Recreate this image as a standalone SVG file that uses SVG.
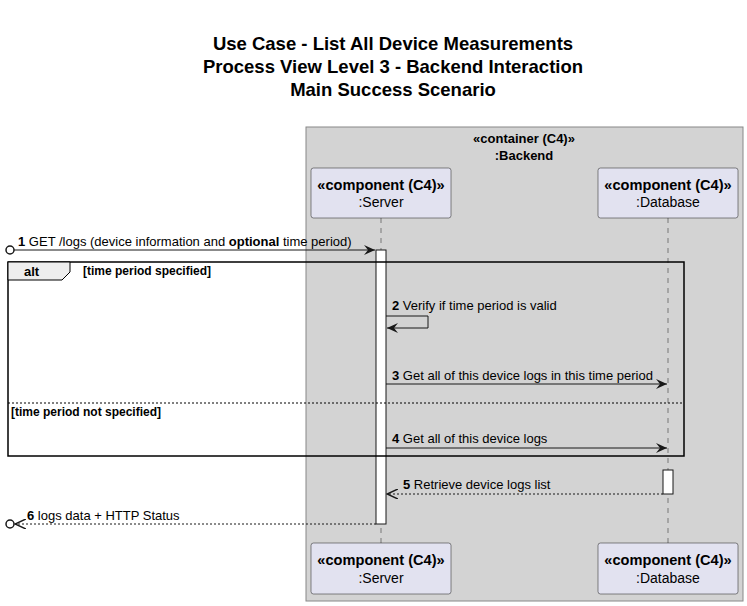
<svg xmlns="http://www.w3.org/2000/svg" width="747" height="606" viewBox="0 0 747 606">
<defs>
<style>
text{font-family:"Liberation Sans",Arial,sans-serif;fill:#000}
.t{font-size:18.5px;font-weight:bold;text-anchor:middle}
.m{font-size:13px}
.b{font-weight:bold}
.st{font-size:14.6px;font-weight:bold;text-anchor:middle}
.nm{font-size:14px;text-anchor:middle}
.part{fill:#E2E2F0;stroke:#181818;stroke-width:0.5}
.life{stroke:#181818;stroke-width:0.5;stroke-dasharray:5,5;fill:none}
.msg{stroke:#181818;stroke-width:1;fill:none}
.ret{stroke:#181818;stroke-width:1;fill:none;stroke-dasharray:2,2}
.act{fill:#fff;stroke:#181818;stroke-width:1}
.g{font-size:12px;font-weight:bold}
</style>
<marker id="ah" viewBox="0 0 12 10" refX="11" refY="5" markerWidth="12" markerHeight="10" markerUnits="userSpaceOnUse" orient="auto">
<polygon points="0,0 11,5 0,10 4,5" fill="#181818"/>
</marker>
<marker id="ahs" viewBox="0 0 12 10" refX="11" refY="5" markerWidth="12" markerHeight="10" markerUnits="userSpaceOnUse" orient="auto">
<polyline points="0,0 11,5 0,10" fill="none" stroke="#181818" stroke-width="1.5"/>
</marker>
</defs>
<rect width="747" height="606" fill="#fff"/>
<g id="title">
<text class="t" x="393" y="50">Use Case - List All Device Measurements</text>
<text class="t" x="393" y="73">Process View Level 3 - Backend Interaction</text>
<text class="t" x="393" y="96">Main Success Scenario</text>
</g>
<g id="backend">
<rect x="306" y="127" width="437" height="474" fill="#D3D3D3" stroke="#888" stroke-width="1"/>
<text x="524" y="143" font-size="13" font-weight="bold" text-anchor="middle">«container (C4)»</text>
<text x="524" y="160" font-size="13" font-weight="bold" text-anchor="middle">:Backend</text>
</g>
<g id="lifelines">
<line class="life" x1="381" y1="218" x2="381" y2="543"/>
<line class="life" x1="668" y1="218" x2="668" y2="543"/>
</g>
<g id="server">
<rect class="part" x="311" y="168" width="140" height="50" rx="2.5"/>
<text class="st" x="381" y="190">«component (C4)»</text>
<text class="nm" x="381" y="207">:Server</text>
</g>
<g id="database">
<rect class="part" x="598" y="168" width="140" height="50" rx="2.5"/>
<text class="st" x="668" y="190">«component (C4)»</text>
<text class="nm" x="668" y="207">:Database</text>
</g>
<g id="server-bottom">
<rect class="part" x="311" y="543" width="140" height="51" rx="2.5"/>
<text class="st" x="381" y="565">«component (C4)»</text>
<text class="nm" x="381" y="583">:Server</text>
</g>
<g id="database-bottom">
<rect class="part" x="598" y="543" width="140" height="51" rx="2.5"/>
<text class="st" x="668" y="565">«component (C4)»</text>
<text class="nm" x="668" y="583">:Database</text>
</g>
<g id="activations">
<rect class="act" x="376" y="250" width="10" height="274"/>
<rect class="act" x="663" y="470" width="10" height="24"/>
</g>
<g id="alt">
<rect x="8" y="262" width="676" height="194" fill="none" stroke="#000" stroke-width="1.5"/>
<polygon points="8,262 70,262 70,272 62,280 8,280" fill="#EEEEEE" stroke="#000" stroke-width="1"/>
<text x="24" y="276" font-size="13" font-weight="bold">alt</text>
<text class="g" x="83" y="275">[time period specified]</text>
<line x1="8" y1="403" x2="684" y2="403" stroke="#000" stroke-width="1" stroke-dasharray="2,2"/>
<text class="g" x="11" y="416">[time period not specified]</text>
</g>
<g id="connectors">
<circle cx="10" cy="250" r="4" fill="#fff" stroke="#181818" stroke-width="1.5"/>
<line class="msg" x1="14" y1="250" x2="375" y2="250" marker-end="url(#ah)"/>
<polyline class="msg" points="386,316 428,316 428,328 387,328" marker-end="url(#ah)"/>
<line class="msg" x1="386" y1="384" x2="667" y2="384" marker-end="url(#ah)"/>
<line class="msg" x1="386" y1="448" x2="667" y2="448" marker-end="url(#ah)"/>
<line class="ret" x1="663" y1="494" x2="387" y2="494" marker-end="url(#ahs)"/>
<line class="ret" x1="376" y1="524" x2="15" y2="524" marker-end="url(#ahs)"/>
<circle cx="10" cy="524" r="4" fill="#fff" stroke="#181818" stroke-width="1.5"/>
</g>
<g id="labels">
<text class="m" x="18" y="246"><tspan class="b">1</tspan> GET /logs (device information and <tspan class="b">optional</tspan> time period)</text>
<text class="m" x="392" y="310"><tspan class="b">2</tspan> Verify if time period is valid</text>
<text class="m" x="392" y="380"><tspan class="b">3</tspan> Get all of this device logs in this time period</text>
<text class="m" x="392" y="443"><tspan class="b">4</tspan> Get all of this device logs</text>
<text class="m" x="403" y="489"><tspan class="b">5</tspan> Retrieve device logs list</text>
<text class="m" x="27" y="520"><tspan class="b">6</tspan> logs data + HTTP Status</text>
</g>
</svg>
